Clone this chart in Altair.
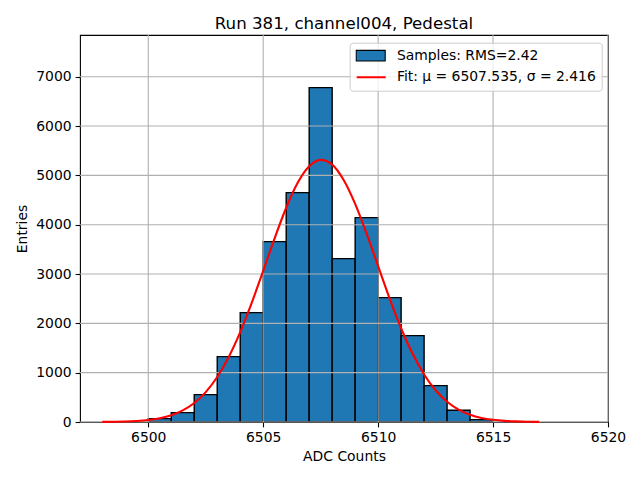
import altair as alt
import pandas as pd

# ---- data ----
bin_edges = [6500, 6501, 6502, 6503, 6504, 6505, 6506, 6507, 6508,
             6509, 6510, 6511, 6512, 6513, 6514, 6515]
bin_counts = [68, 190, 555, 1325, 2217, 3656, 4650, 6778, 3312,
              4143, 2521, 1751, 737, 237, 48]

fit_x = [6498.0, 6498.5, 6499.0, 6499.5, 6500.0, 6500.5, 6501.0, 6501.5,
         6502.0, 6502.5, 6503.0, 6503.5, 6504.0, 6504.5, 6505.0, 6505.5,
         6506.0, 6506.5, 6507.0, 6507.5, 6508.0, 6508.5, 6509.0, 6509.5,
         6510.0, 6510.5, 6511.0, 6511.5, 6512.0, 6512.5, 6513.0, 6513.5,
         6514.0, 6514.5, 6515.0, 6515.5, 6516.0, 6516.5, 6517.0]
fit_y = [2, 5, 10, 21, 41, 77, 137, 235, 385, 606, 913, 1318, 1822, 2415,
         3065, 3728, 4343, 4849, 5186, 5314, 5218, 4907, 4423, 3818, 3158,
         2503, 1900, 1382, 963, 643, 411, 252, 148, 83, 45, 23, 12, 5, 2]

x_ticks = [6500, 6505, 6510, 6515, 6520]
y_ticks = [0, 1000, 2000, 3000, 4000, 5000, 6000, 7000]

sample_label = "Samples: RMS=2.42"
fit_label = "Fit: \u03bc = 6507.535, \u03c3 = 2.416"
title_text = "Run 381, channel004, Pedestal"

bars_df = pd.DataFrame({"lo": bin_edges[:-1], "hi": bin_edges[1:],
                        "count": bin_counts, "sample_series": sample_label})
fit_df = pd.DataFrame({"x": fit_x, "y": fit_y, "fit_series": fit_label})
xgrid_df = pd.DataFrame({"v": x_ticks})
ygrid_df = pd.DataFrame({"v": y_ticks})

FONT = "DejaVu Sans"
FS = 13.9
xscale = alt.Scale(domain=[6497.03, 6520], nice=False, zero=False)
yscale = alt.Scale(domain=[0, 7845], nice=False, zero=False)

common_axis = dict(grid=False, domain=False, ticks=True, tickColor="black",
                   tickSize=4.9, tickWidth=1.1, labelFont=FONT,
                   labelFontSize=FS, labelColor="black", labelPadding=4,
                   titleFont=FONT, titleFontSize=FS, titleFontWeight="normal",
                   titleColor="black", format="d", labelFlush=False)
xaxis = alt.Axis(values=x_ticks, title="ADC Counts", titlePadding=5, **common_axis)
yaxis = alt.Axis(values=y_ticks, title="Entries", titlePadding=6, **common_axis)

LX, LY, LPAD = 269.7, 7.7, 5.5

# framed legend: an empty first row (reserved for the samples entry) + fit row
legend_fit = alt.Legend(
    title=None, orient="none", legendX=LX, legendY=LY, padding=LPAD,
    fillColor="rgba(255,255,255,0.8)", strokeColor="#cccccc", cornerRadius=3,
    symbolType="stroke", symbolSize=841, symbolStrokeWidth=2.1,
    clipHeight=15, rowPadding=6.6, labelFont=FONT, labelFontSize=FS,
    labelColor="black", labelOffset=9.7, labelLimit=400, zindex=1)

# samples entry drawn over the first row of the framed legend
legend_samples = alt.Legend(
    title=None, orient="none", legendX=LX, legendY=LY, padding=LPAD,
    symbolType="M-1,-0.37H1V0.37H-1Z", symbolSize=841,
    symbolStrokeColor="black", symbolStrokeWidth=1.1, symbolOpacity=1,
    clipHeight=15, labelFont=FONT, labelFontSize=FS, labelColor="black",
    labelOffset=10.7, labelLimit=400, zindex=2)

bars = alt.Chart(bars_df).mark_bar(stroke="black", strokeWidth=1.4, opacity=1).encode(
    x=alt.X("lo:Q", scale=xscale, axis=xaxis),
    x2="hi:Q",
    y=alt.Y("count:Q", scale=yscale, axis=yaxis),
    y2=alt.datum(0),
    fill=alt.Fill("sample_series:N", scale=alt.Scale(range=["#1f77b4"]),
                  legend=legend_samples),
)

xgrid = alt.Chart(xgrid_df).mark_rule(color="#b0b0b0", strokeWidth=1.1).encode(
    x=alt.X("v:Q", scale=xscale, axis=xaxis))
ygrid = alt.Chart(ygrid_df).mark_rule(color="#b0b0b0", strokeWidth=1.1).encode(
    y=alt.Y("v:Q", scale=yscale, axis=yaxis))

line = alt.Chart(fit_df).mark_line(strokeWidth=2.1, interpolate="monotone").encode(
    x=alt.X("x:Q", scale=xscale, axis=xaxis),
    y=alt.Y("y:Q", scale=yscale, axis=yaxis),
    stroke=alt.Stroke("fit_series:N",
                      scale=alt.Scale(domain=["", fit_label],
                                      range=["transparent", "red"]),
                      legend=legend_fit),
)

chart = alt.layer(bars, xgrid, ygrid, line).properties(
    width=528, height=387,
    title=alt.TitleParams(title_text, font=FONT, fontSize=16.67,
                          fontWeight="normal", color="black", anchor="middle",
                          offset=8, baseline="alphabetic", frame="group",
                          dy=19),
    autosize=alt.AutoSizeParams(type="none"),
    padding={"left": 72, "top": 27, "right": 20, "bottom": 45},
    background="white",
).configure_view(stroke="black", strokeWidth=1.1)

chart.save("out.html", embed_options={"renderer": "svg", "actions": False})
